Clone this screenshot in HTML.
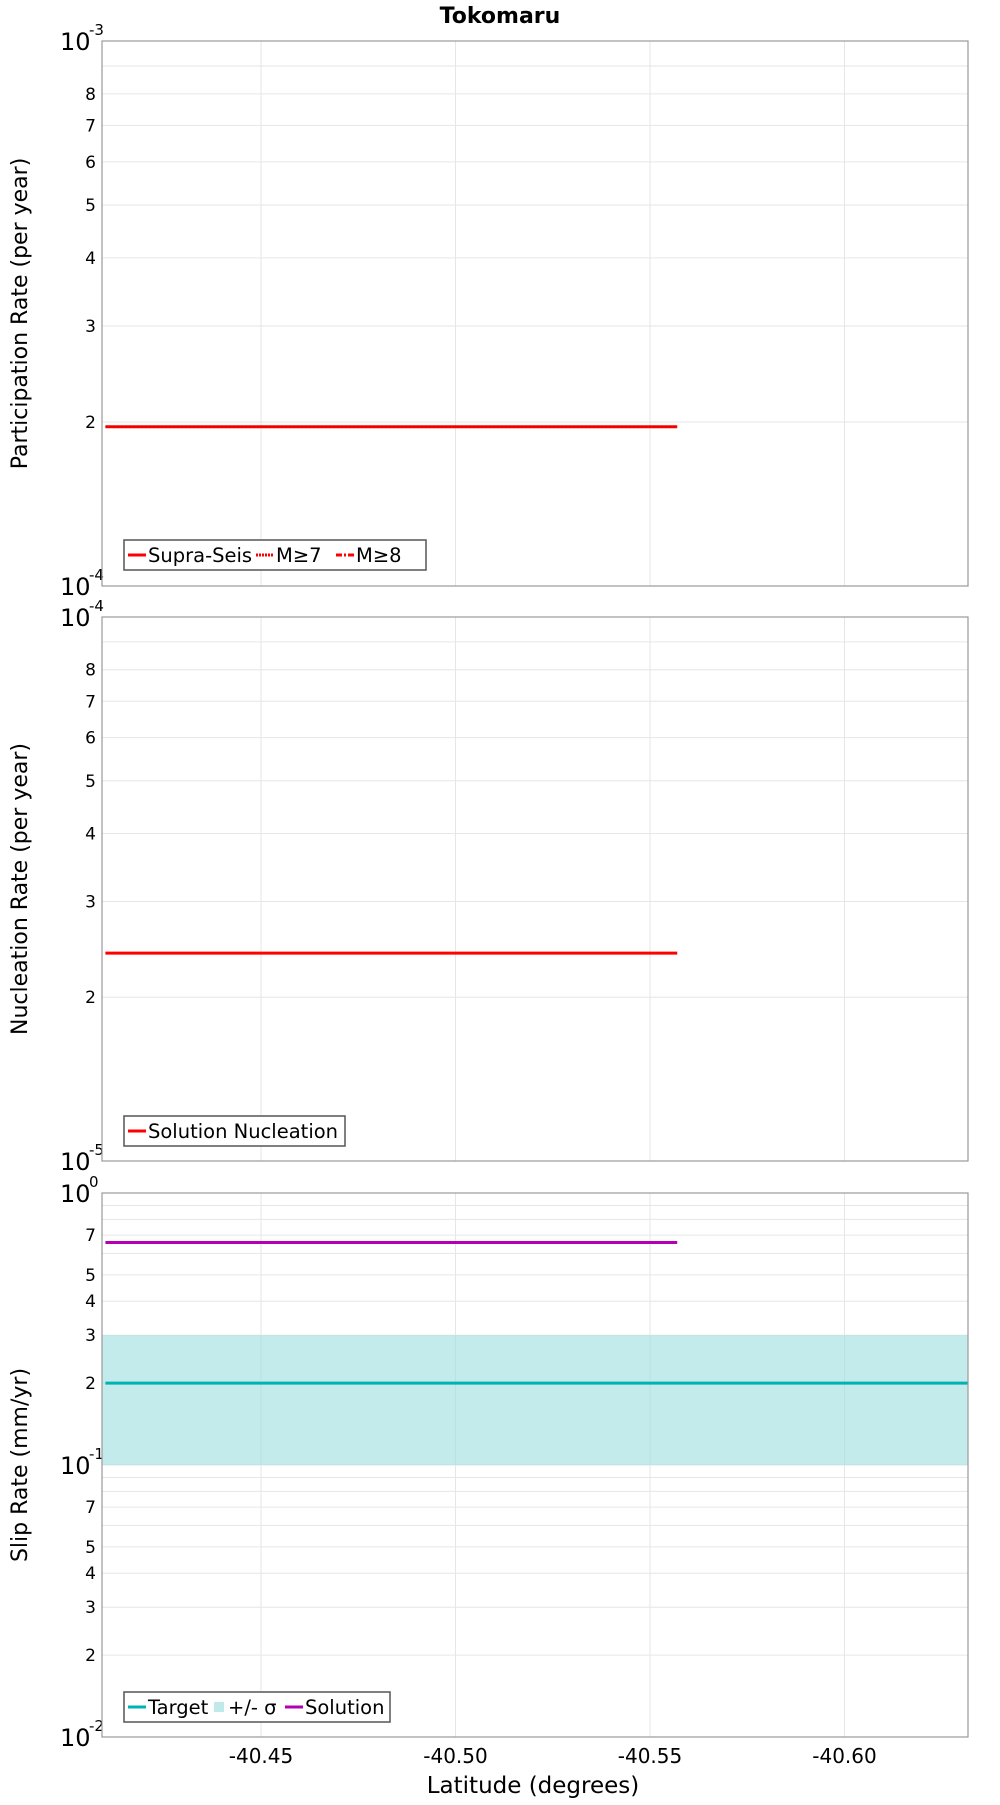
<!DOCTYPE html>
<html><head><meta charset="utf-8"><style>
body{margin:0;background:#fff;}
svg text{font-family:"DejaVu Sans","Liberation Sans",sans-serif;fill:#000;}
</style></head><body>
<svg id="c" width="1000" height="1800" viewBox="0 0 1000 1800" xmlns="http://www.w3.org/2000/svg">
<text x="500" y="23" text-anchor="middle" font-size="22" font-weight="bold">Tokomaru</text>
<text x="533" y="1793" text-anchor="middle" font-size="23">Latitude (degrees)</text>
</svg>
<script>
const xTicks=[-40.45,-40.50,-40.55,-40.60];
const xTickLabels=["-40.45","-40.50","-40.55","-40.60"];
const segLat=[-40.41,-40.483,-40.557];
const partSupra=[1.96e-4,1.96e-4,1.96e-4];
const nuclSol=[2.41e-5,2.41e-5,2.41e-5];
const slipTarget=[0.2,0.2];
const slipLower=[0.1,0.1];
const slipUpper=[0.3,0.3];
const slipLat=[-40.41,-40.6322];
const slipSolution=[0.658,0.658,0.658];
const NS="http://www.w3.org/2000/svg",svg=document.getElementById('c');
const L=102,R=968;
function X(v){return 261+(v-(-40.45))/(-0.05)*194.5;}
function XC(v){return Math.max(L,Math.min(R,X(v)));}
function mk(t,a,p){const e=document.createElementNS(NS,t);for(const k in a)e.setAttribute(k,a[k]);(p||svg).appendChild(e);return e;}
function panel(top,bot,dmin,dmax,labelsShown,title){
  const Y=v=>bot-(Math.log10(v)-dmin)/(dmax-dmin)*(bot-top);
  const g=mk('g',{});
  
  
  for(let d=dmin;d<dmax;d++)for(let m=2;m<=9;m++){
    const y=Y(m*Math.pow(10,d));
    const l=mk('line',{x1:L,x2:R,y1:y,y2:y,stroke:'#e6e6e6','stroke-width':1},g);
    
    if(labelsShown.includes(m)){const t=mk('text',{x:96,y:y+6,'text-anchor':'end','font-size':17,fill:'#222'},g);t.textContent=m;
      }
  }
  for(let d=dmin;d<=dmax;d++){
    if(d>dmin&&d<dmax){const y=Y(Math.pow(10,d));mk('line',{x1:L,x2:R,y1:y,y2:y,stroke:'#e6e6e6'},g);}
    const y=Y(Math.pow(10,d));
    const t=mk('text',{x:60,y:y+9,'font-size':24},g);t.textContent='10';
    
    const s=mk('text',{x:89,y:y-6,'font-size':15},g);s.textContent=String(d);
  }
  xTicks.forEach((v,i)=>{const l=mk('line',{x1:X(v),x2:X(v),y1:top,y2:bot,stroke:'#e6e6e6'},g);
    });
  const yt=mk('text',{transform:`translate(27,${(top+bot)/2}) rotate(-90)`,'text-anchor':'middle','font-size':22},g);
  yt.textContent=title;
  return {g,Y,top,bot};
}
function frame(p){const r=mk('rect',{x:L,y:p.top,width:R-L,height:p.bot-p.top,fill:'none',stroke:'#999','stroke-width':1.2},p.g);
  }
function line(p,xs,ys,col,name,w){const pts=xs.map((x,i)=>XC(x)+','+p.Y(ys[i])).join(' ');
  const e=mk('polyline',{points:pts,fill:'none',stroke:col,'stroke-width':w||3},p.g);
  return e;}
function legend(p,x,y,w,items){const g=mk('g',{},p.g);
  mk('rect',{x,y,width:w,height:30,fill:'#fff',stroke:'#555','stroke-width':1.5},g);
  let cx=x+4;items.forEach(it=>{
    if(it.box)mk('rect',{x:cx+2,y:y+10,width:10,height:10,fill:it.col},g);
    else mk('line',{x1:cx,x2:cx+18,y1:y+15,y2:y+15,stroke:it.col,'stroke-width':3,'stroke-dasharray':it.dash||''},g);
    cx+=it.box?16:20;
    const t=mk('text',{x:cx,y:y+22,'font-size':19.5},g);t.textContent=it.label;
    
    cx+=it.w;});}
const p1=panel(41,586,-4,-3,[2,3,4,5,6,7,8],'Participation Rate (per year)');
line(p1,segLat,partSupra,'#ff0000','supra-seis-line',3);
line(p1,segLat,partSupra,'#cc0000','m7-line',1).setAttribute('stroke-dasharray','2,2');
legend(p1,124,540,302,[{col:'#f00',label:'Supra-Seis',w:108},{col:'#f00',dash:'2,1',label:'M≥7',w:60},{col:'#f00',dash:'6,2,2,2',label:'M≥8',w:50}]);
frame(p1);
const p2=panel(617,1161,-5,-4,[2,3,4,5,6,7,8],'Nucleation Rate (per year)');
line(p2,segLat,nuclSol,'#ff0000','solution-nucleation-line',3);
legend(p2,124,1116,221,[{col:'#f00',label:'Solution Nucleation',w:190}]);
frame(p2);
const p3=panel(1193,1737,-2,0,[2,3,4,5,7],'Slip Rate (mm/yr)');
const band=mk('rect',{x:L,y:p3.Y(slipUpper[0]),width:R-L,height:p3.Y(slipLower[0])-p3.Y(slipUpper[0]),fill:'#9ddede','fill-opacity':0.6},p3.g);

line(p3,slipLat,slipTarget,'#00b3b3','target-line',3);
line(p3,segLat,slipSolution,'#b300b3','solution-line',3);
legend(p3,124,1692,266,[{col:'#00b3b3',label:'Target',w:64},{col:'#c0eaea',box:true,label:'+/- σ',w:57},{col:'#b300b3',label:'Solution',w:90}]);
frame(p3);
xTicks.forEach((v,i)=>{const t=mk('text',{x:X(v),y:1763,'text-anchor':'middle','font-size':20});t.textContent=xTickLabels[i];
  });
</script>
</body></html>
